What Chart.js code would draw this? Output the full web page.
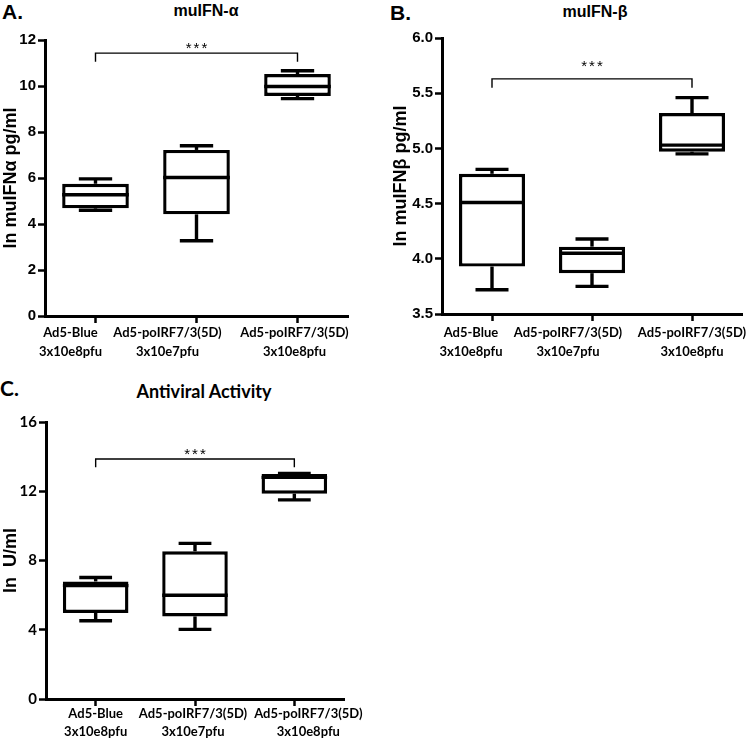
<!DOCTYPE html>
<html><head><meta charset="utf-8">
<script src="https://cdn.jsdelivr.net/npm/chart.js@4.4.1/dist/chart.umd.min.js"></script>
<style>
body{margin:0;background:#fff;width:750px;height:740px;position:relative;overflow:hidden}
canvas{position:absolute}
.t{position:absolute;font-family:"Liberation Sans",Arial,sans-serif;font-weight:bold;color:#000;white-space:nowrap;line-height:1}
.ctr{transform:translateX(-50%)}
</style></head><body>
<div class="t" style="left:2px;top:1px;font-size:21px">A.</div>
<div class="t ctr" style="left:206px;top:3px;font-size:16px">muIFN-α</div>
<div class="t" style="left:390px;top:2px;font-size:21px">B.</div>
<div class="t ctr" style="left:595px;top:4px;font-size:16px">muIFN-β</div>
<div class="t" style="left:0px;top:377px;font-family:Lato,sans-serif;font-size:21px">C.</div>
<div class="t ctr" style="left:204px;top:382px;font-family:Lato,sans-serif;font-size:18px">Antiviral Activity</div>
<canvas id="cA" width="375" height="370" style="left:0;top:0"></canvas>
<canvas id="cB" width="380" height="370" style="left:370px;top:0"></canvas>
<canvas id="cC" width="375" height="370" style="left:0;top:370px"></canvas>
<script>
// ---- data ----
const categories = [["Ad5-Blue","3x10e8pfu"],["Ad5-poIRF7/3(5D)","3x10e7pfu"],["Ad5-poIRF7/3(5D)","3x10e8pfu"]];

const alphaMin    = [4.6, 3.27, 9.45];
const alphaQ1     = [4.68, 4.42, 9.57];
const alphaMedian = [5.27, 6.02, 9.98];
const alphaQ3     = [5.75, 7.22, 10.52];
const alphaMax    = [5.96, 7.4, 10.66];

const betaMin    = [3.72, 3.75, 4.95];
const betaQ1     = [3.93, 3.87, 4.97];
const betaMedian = [4.51, 4.05, 5.03];
const betaQ3     = [4.77, 4.11, 5.32];
const betaMax    = [4.81, 4.18, 5.46];

const antiMin    = [4.52, 4.02, 11.5];
const antiQ1     = [4.97, 4.77, 11.86];
const antiMedian = [6.55, 5.99, 12.8];
const antiQ3     = [6.79, 8.53, 13.0];
const antiMax    = [7.02, 8.99, 13.03];

const alphaTicks = {min: 0, max: 12, step: 2};
const betaTicks  = {min: 3.5, max: 6.0, step: 0.5};
const antiTicks  = {min: 0, max: 16, step: 4};

const alphaBracket = {from: 0, to: 2, y: 11.43, tip: 11.05, label: "***"};
const betaBracket  = {from: 0, to: 2, y: 5.63, tip: 5.55, label: "***"};
const antiBracket  = {from: 0, to: 2, y: 13.86, tip: 13.38, label: "***"};

// ---- drawing ----
const boxExtras = {
  id: 'boxExtras',
  afterDatasetsDraw(chart, args, opts) {
    const {ctx, scales: {x, y}} = chart;
    const meta = chart.getDatasetMeta(0);
    const s = opts.stats;
    const line = (x1, y1, x2, y2) => { ctx.beginPath(); ctx.moveTo(x1, y1); ctx.lineTo(x2, y2); ctx.stroke(); };
    ctx.save();
    ctx.strokeStyle = '#000';
    ctx.lineWidth = 3.4;
    ctx.lineCap = 'butt';
    s.min.forEach((mn, i) => {
      const bar = meta.data[i];
      const cx = bar.x, w = bar.width;
      const yMin = y.getPixelForValue(mn), yMax = y.getPixelForValue(s.max[i]);
      const yQ1 = y.getPixelForValue(s.q1[i]), yQ3 = y.getPixelForValue(s.q3[i]);
      const yMed = y.getPixelForValue(s.median[i]);
      line(cx, yQ3, cx, yMax);
      line(cx, yQ1, cx, yMin);
      line(cx - w / 4, yMax, cx + w / 4, yMax);
      line(cx - w / 4, yMin, cx + w / 4, yMin);
      line(cx - w / 2, yMed, cx + w / 2, yMed);
    });
    // significance bracket
    const b = opts.bracket;
    const x1 = x.getPixelForValue(b.from), x2 = x.getPixelForValue(b.to);
    const yb = y.getPixelForValue(b.y), yt = y.getPixelForValue(b.tip);
    ctx.lineWidth = 1.4;
    ctx.beginPath();
    ctx.moveTo(x1, yt); ctx.lineTo(x1, yb); ctx.lineTo(x2, yb); ctx.lineTo(x2, yt);
    ctx.stroke();
    ctx.fillStyle = '#000';
    ctx.font = '15px "Liberation Sans", Arial, sans-serif';
    ctx.letterSpacing = '2px';
    ctx.textAlign = 'center';
    ctx.textBaseline = 'middle';
    ctx.fillText(b.label, (x1 + x2) / 2 + 1, yb - opts.starGap + 3);
    ctx.letterSpacing = '0px';
    // category labels (two lines, each shifted as in the original figure)
    const lab = opts.labels;
    ctx.font = 'bold 13px Lato, "Open Sans", sans-serif';
    chart.data.labels.forEach((lines, i) => {
      const cx = x.getPixelForValue(i) + lab.shift[i];
      lines.forEach((txt, k) => ctx.fillText(txt, cx, x.top + lab.rows[k]));
    });
    ctx.restore();
  }
};

function makeChart(id, cfg) {
  const boxes = cfg.q1.map((v, i) => [v, cfg.q3[i]]);
  return new Chart(document.getElementById(id), {
    type: 'bar',
    data: {
      labels: categories,
      datasets: [{
        data: boxes,
        backgroundColor: '#fff',
        borderColor: '#000',
        borderWidth: 3.4,
        borderSkipped: false,
        barPercentage: 0.66,
        categoryPercentage: 1
      }]
    },
    options: {
      responsive: false,
      animation: false,
      devicePixelRatio: 1,
      layout: {padding: cfg.padding},
      plugins: {
        legend: {display: false},
        tooltip: {enabled: false},
        boxExtras: {
          stats: {min: cfg.min, q1: cfg.q1, median: cfg.median, q3: cfg.q3, max: cfg.max},
          bracket: cfg.bracket, starGap: cfg.starGap, labels: cfg.labels
        }
      },
      scales: {
        x: {
          offset: true,
          afterFit: s => { s.height = cfg.xHeight; },
          grid: {offset: false, drawOnChartArea: false, tickLength: 7, tickWidth: 2.5, tickColor: '#000'},
          border: {display: true, color: '#000', width: 3},
          ticks: {display: false}
        },
        y: {
          min: cfg.ticks.min, max: cfg.ticks.max,
          afterFit: s => { s.width = cfg.yWidth; },
          grid: {drawOnChartArea: false, tickLength: 7, tickWidth: 2.5, tickColor: '#000'},
          border: {display: true, color: '#000', width: 3},
          ticks: {stepSize: cfg.ticks.step, color: '#000', padding: 2,
                  font: cfg.tickFont,
                  callback: v => cfg.decimals ? Number(v).toFixed(cfg.decimals) : v},
          title: {display: true, text: cfg.yTitle, color: '#000', padding: 0, font: cfg.titleFont}
        }
      }
    },
    plugins: [boxExtras]
  });
}

const arialTick = {family: '"Liberation Sans", Arial, sans-serif', weight: 'bold', size: 15};
const arialTitle = {family: '"Liberation Sans", Arial, sans-serif', weight: 'bold', size: 18};

makeChart('cA', {
  min: alphaMin, q1: alphaQ1, median: alphaMedian, q3: alphaQ3, max: alphaMax,
  ticks: alphaTicks, bracket: alphaBracket, decimals: 0, starGap: 7,
  labels: {shift: [-25, -29, -3], rows: [17, 36]},
  padding: {top: 40, right: 27, left: 0, bottom: 0}, yWidth: 45, xHeight: 54,
  tickFont: arialTick, titleFont: arialTitle, yTitle: 'ln muIFNα pg/ml'
});
makeChart('cB', {
  min: betaMin, q1: betaQ1, median: betaMedian, q3: betaQ3, max: betaMax,
  ticks: betaTicks, bracket: betaBracket, decimals: 1, starGap: 15,
  labels: {shift: [-21, -24, 0], rows: [19, 38]},
  padding: {top: 38, right: 8, left: 20, bottom: 0}, yWidth: 52, xHeight: 56,
  tickFont: arialTick, titleFont: arialTitle, yTitle: 'ln muIFNβ pg/ml'
});
makeChart('cC', {
  min: antiMin, q1: antiQ1, median: antiMedian, q3: antiQ3, max: antiMax,
  ticks: antiTicks, bracket: antiBracket, decimals: 0, starGap: 7.6,
  labels: {shift: [0, -2, 14], rows: [15, 32.5]},
  padding: {top: 52, right: 31, left: 0, bottom: 0}, yWidth: 46, xHeight: 41,
  tickFont: {family: 'Lato, sans-serif', weight: 'bold', size: 15},
  titleFont: {family: '"Liberation Sans", Arial, sans-serif', weight: 'bold', size: 18}, yTitle: 'ln  U/ml'
});
</script>
</body></html>
